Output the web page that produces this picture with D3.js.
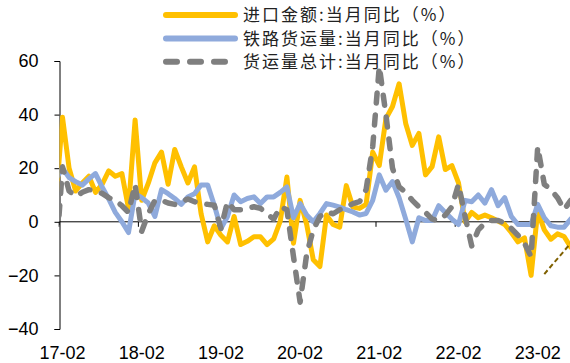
<!DOCTYPE html>
<html><head><meta charset="utf-8">
<script src="https://cdn.jsdelivr.net/npm/d3@7"></script>
<style>html,body{margin:0;padding:0;background:#fff}svg{display:block}</style>
</head><body>
<svg id="chart" width="570" height="363"></svg>
<script>
// ---------- data ----------
const startYear = 2017, startMonth = 1, monthCount = 79; // 2017-01 .. 2023-07
const months = [];
for (let k = 0; k < monthCount; k++) {
  const m = (startMonth - 1 + k);
  const yy = startYear + Math.floor(m / 12), mm = (m % 12) + 1;
  months.push(yy + "-" + String(mm).padStart(2, "0"));
}

const seriesNames = ["进口金额:当月同比（%）", "铁路货运量:当月同比（%）", "货运量总计:当月同比（%）"];

const importYoY = [8,
  39, 20, 11.5, 14.5, 17, 11, 14, 19, 17, 18, 5,
  38, 8, 14.4, 22, 26, 14, 27, 20.5, 14.5, 20.5, 3, -7.5,
  -1.5, -5, -7.5, 2, -8.5, -7.3, -5.6, -5.6, -8.5, -6.4, 0.3, 16.7,
  -8, 8, -1, -14.2, -16.7, 2.5, -1, -2, 13.5, 5.5, 5, 6.5,
  26, 21, 38.5, 43, 51.5, 36.7, 28.5, 33, 17.5, 20.6, 31.7, 19.5,
  21, 14.5, 0, 3.5, 1.5, 2.5, 1.5, 0.3, -1, -4, -7.5, -6,
  -20, 4, -3, -6.5, -4.5, -5.5, -9.5];

const railYoY = [16,
  20, 16.5, 15, 13.7, 16, 18, 13, 8.5, 3.5, 0, -4,
  10.5, 9, 7, 2, 12, 10.5, 8.7, 6.5, 9.3, 10.5, 13.7, 13.7,
  6.2, -2.5, 2, 10, 7.5, 8.7, 9.3, 6.8, 9.3, 9.3, 11, 13,
  1.5, 6.8, 2.5, 0, 3.1, 6.8, 6.2, 5.5, 4.5, 3.7, 2.5, 3.1,
  8, 17.5, 11.8, 15, 9, 1, -7.5, 1.5, 0.5, 0.5, 6, 3.5,
  1, -1, 8, 7.5, 10, 7, 12, 6, 9, 2, -1, -1,
  -1, 6.5, 1.5, -1.5, -2, -2, 1];

const freightYoY = [-14,
  20.5, 11.5, 9.5, 11, 12, 11.5, 10.6, 9, 8, 6, 3.5,
  14, -3.5, 3, 8, 8, 7, 6.5, 7.5, 8.5, 7.5, 6.8, 6.5,
  6.2, -2.5, 7.5, 4.5, 4.5, 5, 5.6, 5, 3, 1, 5.6, 4.5,
  -13, -30, -12, -3, 2, 3.7, 3, 4.5, 5.5, 6.8, 7.5, 12,
  28, 58, 40, 20, 13, 11, 8, 5.6, 3.5, 1, 0.5, 2.5,
  5.6, 14, 2, -9, -3, -0.5, 0.5, 0.5, -0.5, -2.5, -5, -8,
  -13, 28, 14, 12, 9, 4.5, 8];

const trendMonths = ["2023-03", "2023-07"];
const trendValues = [-19.5, -8];

const yTicks = [-40, -20, 0, 20, 40, 60];
const xTickMonths = ["2017-02", "2018-02", "2019-02", "2020-02", "2021-02", "2022-02", "2023-02"];
const xTickLabels = ["17-02", "18-02", "19-02", "20-02", "21-02", "22-02", "23-02"];

// ---------- layout ----------
const plotLeft = 59.5, plotRight = 570, plotTop = 61, plotBottom = 329;
const svg = d3.select("#chart");

const x = d3.scalePoint().domain(months).range([55.9, 570.7]);
const y = d3.scaleLinear().domain([-40, 60]).range([plotBottom, plotTop]);
const step = x.step();

const colors = ["#FFC000", "#8FAADC", "#7F7F7F"];

// y axis
const yAxis = svg.append("g")
  .attr("transform", `translate(${plotLeft},0)`)
  .call(d3.axisLeft(y).tickValues(yTicks).tickSize(5).tickSizeOuter(5).tickPadding(16).tickFormat(d3.format("d")));
yAxis.selectAll("path,line").attr("stroke", "#000").attr("stroke-width", 1);
yAxis.selectAll("text").attr("font-family", "'Liberation Sans', Arial, sans-serif")
  .attr("font-size", 18).attr("fill", "#000");

// x axis line at zero
const x0 = y(0);
svg.append("line").attr("x1", plotLeft).attr("x2", plotRight)
  .attr("y1", x0).attr("y2", x0).attr("stroke", "#000").attr("stroke-width", 1);

// x ticks between categories every 12 months
const tickIdx = xTickMonths.map(m => months.indexOf(m));
svg.append("g").selectAll("line").data(tickIdx).join("line")
  .attr("x1", d => x(months[d]) - step / 2).attr("x2", d => x(months[d]) - step / 2)
  .attr("y1", x0).attr("y2", x0 + 5).attr("stroke", "#000").attr("stroke-width", 1);

// x labels
svg.append("g").selectAll("text").data(xTickMonths).join("text")
  .attr("x", d => x(d)).attr("y", 359)
  .attr("text-anchor", "middle")
  .attr("font-family", "'Liberation Sans', Arial, sans-serif")
  .attr("font-size", 18).attr("fill", "#000")
  .text((d, i) => xTickLabels[i]);

// clip
svg.append("defs").append("clipPath").attr("id", "plotClip")
  .append("rect").attr("x", plotLeft).attr("y", 0).attr("width", plotRight - plotLeft).attr("height", 363);

const g = svg.append("g").attr("clip-path", "url(#plotClip)");
const line = d3.line().x(d => x(d.m)).y(d => y(d.v)).curve(d3.curveLinear);

const allSeries = [importYoY, railYoY, freightYoY];
const widths = [5, 5, 5.5];
const dashes = [null, null, "10,12"];
allSeries.forEach((vals, si) => {
  const pts = vals.map((v, i) => ({ m: months[i], v }));
  g.append("path").datum(pts)
    .attr("d", line)
    .attr("fill", "none")
    .attr("stroke", colors[si])
    .attr("stroke-width", widths[si])
    .attr("stroke-linejoin", "round")
    .attr("stroke-linecap", "round")
    .attr("stroke-dasharray", dashes[si]);
});

// trend dashed line
g.append("path").datum(trendMonths.map((m, i) => ({ m, v: trendValues[i] })))
  .attr("d", line).attr("fill", "none").attr("stroke", "#7F6000")
  .attr("stroke-width", 2).attr("stroke-dasharray", "5,3");

// legend
const legendY = [15, 38.5, 61.8];
const lg = svg.append("g");
seriesNames.forEach((name, i) => {
  lg.append("line").attr("x1", 166).attr("x2", 235).attr("y1", legendY[i]).attr("y2", legendY[i])
    .attr("stroke", colors[i]).attr("stroke-width", 6).attr("stroke-linecap", "round")
    .attr("stroke-dasharray", dashes[i] ? "11,13" : null);
  lg.append("text").attr("x", 243).attr("y", legendY[i]).attr("dy", "0.36em")
    .attr("font-family", "'Noto Sans CJK SC', sans-serif").attr("font-size", 17)
    .attr("letter-spacing", 2).attr("fill", "#222").text(name);
});
</script>
</body></html>
